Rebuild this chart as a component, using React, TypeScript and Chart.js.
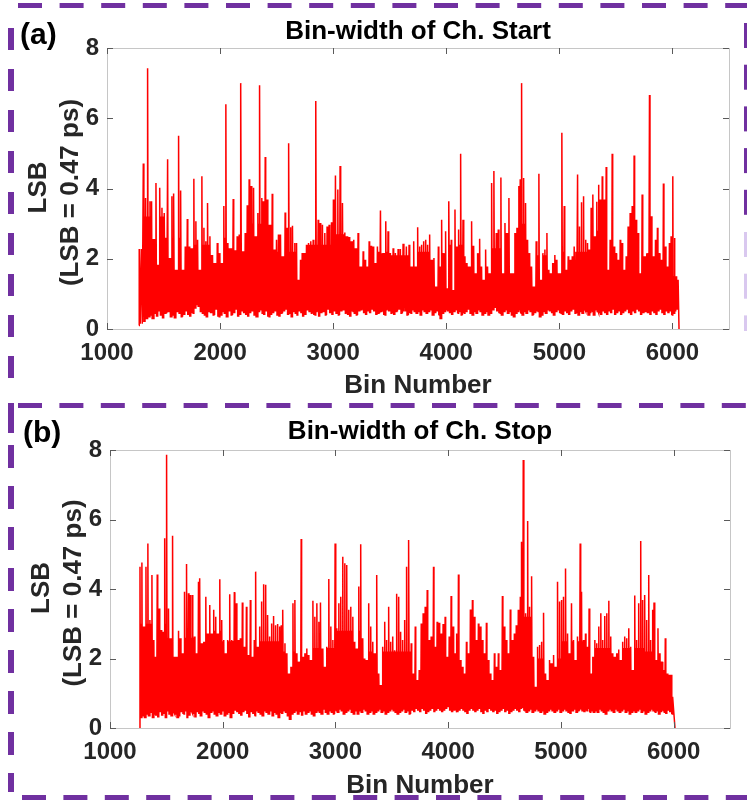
import React, { useEffect, useRef } from "react";
import { Chart, registerables } from "chart.js";
Chart.register(...registerables);

const FONT = "'Liberation Sans', Arial, sans-serif";
const PURPLE = "#7030a0";
const LAVENDER = "#d9c8ef";

const xTickValues = [1000, 2000, 3000, 4000, 5000, 6000];
const yTickValues = [0, 2, 4, 6, 8];

const panelLabels = ["(a)", "(b)"];
const panelTitles = ["Bin-width of Ch. Start", "Bin-width of Ch. Stop"];
const xAxisTitle = "Bin Number";
const yAxisTitleLines = ["LSB", "(LSB = 0.47 ps)"];

// Channel Start: bin numbers and local peak values (LSB)
const startBins = [1283,
  1285,1321,1341,1359,1380,1394,1415,1433,1453,1468,1486,1506,1536,1556,1574,1589,1615,1633,1651,1674,
  1692,1710,1727,1745,1768,1786,1801,1821,1839,1857,1874,1889,1910,1933,1957,1975,1998,2016,2033,2051,
  2069,2092,2116,2134,2151,2169,2184,2204,2222,2240,2257,2275,2296,2313,2334,2349,2369,2381,2399,2416,
  2440,2461,2478,2499,2516,2534,2558,2575,2593,2608,2625,2640,2661,2676,2693,2711,2726,2743,2764,2782,
  2802,2823,2846,2867,2885,2905,2926,2946,2964,2985,3002,3020,3041,3061,3082,3103,3123,3141,3161,3182,
  3200,3220,3241,3265,3282,3300,3318,3335,3353,3373,3391,3418,3441,3465,3485,3506,3530,3550,3574,3594,
  3618,3647,3671,
  3694,3712,3729,3747,3765,3782,3800,3818,3835,3853,3871,3891,3912,3930,3941,3959,3977,3994,4009,4024,
  4044,4059,4077,4095,4109,4127,4148,4165,4183,4206,4224,4242,4259,4277,4295,4312,4330,4348,4365,4383,
  4401,4421,4442,4460,4483,4501,4519,4536,4554,4572,4589,4607,4625,4642,4654,4666,4684,4701,4719,4737,
  4754,4778,4795,4819,4837,4854,4872,4890,4907,4928,4943,4960,4978,4996,5022,5043,5061,5078,5096,5114,
  5131,5161,5178,5196,5214,5231,5249,5267,5281,5296,5314,5331,5346,5361,5379,5396,5414,5432,5449,5467,
  5485,5502,5520,5538,5555,5573,5591,5608,5626,5644,5661,5679,5697,5714,5732,5753,5773,5797,5814,5832,
  5850,5867,5885,5903,5920,5938,5956,5973,5988,6003,6018,6032,6050,
  6058];
const startPeaks = [0.1,
  2.28,4.71,3.73,7.42,3.64,3.64,2.56,4.16,1.83,4.02,3.45,3.30,4.83,2.02,3.78,3.86,1.69,5.50,3.94,1.69,
  2.35,3.13,2.35,2.30,4.28,3.07,2.54,1.69,4.35,2.88,2.50,3.59,2.64,2.11,1.88,2.45,2.16,1.88,3.50,6.40,
  2.45,2.30,3.70,2.24,2.64,2.69,7.00,2.21,2.73,3.52,4.26,4.07,4.02,2.64,3.30,6.94,3.73,3.64,4.90,3.69,
  2.97,3.85,2.26,2.54,2.69,2.69,2.07,3.32,2.88,5.29,2.90,2.94,2.45,2.45,1.40,1.97,2.16,2.16,2.40,2.45,
  2.50,2.54,6.49,3.11,3.02,2.97,2.73,2.92,2.97,3.04,3.69,4.37,3.97,4.64,3.59,2.75,2.64,2.62,2.50,2.54,
  2.30,2.73,1.78,2.21,1.97,1.78,2.50,2.37,2.35,1.88,2.35,3.37,2.16,3.07,2.78,2.16,2.30,2.16,2.28,2.28,
  2.43,2.35,2.40,
  1.78,2.50,1.78,2.90,2.35,2.40,2.50,2.54,2.40,2.69,1.97,2.02,1.21,2.35,1.78,3.11,2.16,2.78,1.16,3.64,
  2.54,1.11,3.40,2.35,2.83,4.99,3.11,2.07,1.88,1.78,3.07,2.37,1.59,2.16,2.57,1.78,1.40,2.26,1.78,1.59,
  4.16,4.50,2.73,2.83,4.31,1.59,3.02,2.73,3.73,1.59,1.59,2.73,2.88,4.07,4.26,7.00,4.30,3.59,2.54,2.16,
  1.78,1.21,2.50,4.42,1.40,2.16,2.26,2.73,1.69,1.59,1.88,2.11,1.97,1.59,5.59,3.50,1.69,2.07,1.97,2.07,
  2.35,4.40,2.92,3.61,3.78,2.54,2.45,2.26,3.45,3.83,2.64,3.62,4.11,3.69,4.35,3.69,4.61,1.69,2.54,4.99,
  2.35,2.16,1.97,2.54,2.45,1.69,2.07,2.92,3.30,3.50,4.94,3.11,2.73,1.59,3.83,2.07,2.16,6.66,3.21,2.07,
  2.54,2.88,2.16,1.97,4.14,2.35,1.78,2.45,2.64,4.35,2.59,1.50,1.40,
  0];
// Channel Start: lower envelope between neighbouring peaks
const startLows = [
  0.15,0.2,0.3,0.35,0.4,0.3,0.45,0.35,0.5,0.4,
  0.3,0.45,0.5,0.35,0.4,0.3,0.5,0.45,0.35,0.4,
  0.5,0.4,0.35,0.45,0.6,0.7,0.65,0.5,0.45,0.4,
  0.35,0.5,0.45,0.4,0.55,0.35,0.4,0.5,0.45,0.35,
  0.5,0.4,0.45,0.55,0.35,0.4,0.5,0.45,0.4,0.35,
  0.45,0.5,0.4,0.35,0.5,0.55,0.45,0.4,0.5,0.35,
  0.4,0.45,0.5,0.4,0.35,0.45,0.5,0.55,0.4,0.45,
  0.35,0.5,0.45,0.4,0.5,0.45,0.35,0.4,0.55,0.5,
  0.45,0.4,0.5,0.35,0.45,0.5,0.4,0.55,0.45,0.4,
  0.5,0.45,0.4,0.5,0.55,0.45,0.4,0.35,0.5,0.45,
  0.4,0.5,0.55,0.45,0.4,0.5,0.45,0.55,0.5,0.4,
  0.45,0.5,0.4,0.55,0.5,0.45,0.4,0.5,0.55,0.45,
  0.5,0.4,0.45,0.55,0.5,0.45,0.5,0.4,0.55,0.5,
  0.45,0.5,0.55,0.4,0.45,0.5,0.4,0.3,0.45,0.5,
  0.55,0.5,0.45,0.4,0.5,0.55,0.45,0.5,0.4,0.45,
  0.5,0.55,0.45,0.4,0.5,0.45,0.55,0.5,0.4,0.45,
  0.5,0.4,0.45,0.55,0.6,0.5,0.45,0.4,0.5,0.55,
  0.45,0.5,0.4,0.35,0.45,0.5,0.55,0.45,0.4,0.5,
  0.45,0.55,0.5,0.4,0.45,0.5,0.35,0.4,0.5,0.45,
  0.55,0.5,0.45,0.4,0.5,0.55,0.45,0.4,0.5,0.45,
  0.4,0.5,0.55,0.45,0.4,0.5,0.45,0.55,0.5,0.4,
  0.45,0.5,0.4,0.55,0.5,0.45,0.4,0.5,0.45,0.4,
  0.5,0.45,0.55,0.4,0.45,0.5,0.4,0.45,0.5,0.55,
  0.45,0.4,0.5,0.45,0.55,0.5,0.4,0.45,0.5,0.45,
  0.4,0.5,0.45,0.4,0.5,0.55,0.45,0.4,0.5,0.45,
  0.5,0.4,0.45,0.5,0.55,0.45,0.4,0.5,0.45,0.4,
  0.45,0.5,0.4,0.45,0.5,0.4,0.45,0.5,0.3,0.2];

// Channel Stop: bin numbers and local peak values (LSB)
const stopBins = [1262,
  1266,1283,1301,1319,1336,1354,1372,1389,1401,1419,1437,1454,1472,1487,1502,1519,1537,1555,1572,1590,
  1608,1625,1643,1661,1679,1696,1714,1732,1749,1767,1785,1797,1814,1832,1850,1867,1885,1903,1920,1938,
  1956,1974,1991,2009,2027,2044,2062,2080,2103,2121,2139,2156,2174,2192,2210,2227,2245,2263,2280,2292,
  2310,2328,2345,2363,2381,2398,2416,2434,2451,2469,2487,2505,2519,2534,2552,2569,2587,2605,2623,2640,
  2658,2676,2696,2711,2729,2746,2764,2782,2800,2817,2835,2853,2867,2888,2906,2923,2941,2959,2977,2997,
  3012,3030,3047,3065,3083,3100,3118,3136,3154,3171,3189,3207,3224,3242,3260,3277,3295,3313,3331,3348,
  3366,3384,3401,3419,3437,3454,3472,3490,3508,3525,3543,3561,3578,3596,3614,3631,3649,
  3672,3690,3708,3725,3743,3761,3778,3796,3814,3832,3849,3870,3885,3902,3920,3938,3955,3973,3991,4009,
  4026,4044,4062,4073,4091,4109,4127,4144,4162,4180,4197,4215,4233,4250,4268,4286,4304,4321,4339,4357,
  4374,4392,4410,4427,4445,4463,4481,4498,4516,4534,4551,4569,4587,4604,4622,4640,4652,4666,4687,4705,
  4722,4740,4758,4776,4793,4811,4829,4846,4864,4882,4899,4917,4935,4953,4970,4988,5006,5023,5041,5059,
  5076,5094,5112,5130,5147,5171,5183,5200,5218,5236,5250,5265,5283,5301,5318,5336,5354,5371,5389,5407,
  5425,5442,5460,5478,5495,5513,5531,5548,5566,5584,5602,5619,5637,5655,5672,5690,5708,5725,5743,5761,
  5779,5796,5814,5826,5843,5861,5879,5897,5914,5926,5944,5961,5979,5991,
  6012];
const stopPeaks = [0,
  4.64,4.76,2.92,4.64,5.31,3.11,4.40,2.53,2.05,4.42,3.44,2.82,2.77,5.46,7.86,3.44,2.58,5.53,2.05,2.05,
  2.80,2.58,2.15,3.92,4.72,3.88,3.83,3.83,2.63,2.15,4.21,4.31,2.44,2.48,3.78,2.72,3.54,2.72,3.40,3.20,
  2.72,4.28,3.11,2.53,2.15,2.53,3.85,2.53,3.91,3.59,2.53,2.58,3.61,2.34,3.49,2.10,3.68,2.05,2.53,4.50,
  2.34,2.92,3.64,4.14,4.12,3.25,2.63,3.01,3.22,2.96,2.99,2.92,2.96,3.40,2.44,2.15,1.57,1.76,3.59,3.68,
  2.15,1.91,5.44,2.05,2.15,2.29,2.10,1.96,3.66,3.20,3.59,3.06,3.61,2.29,1.76,2.34,4.29,2.92,2.53,5.31,
  2.87,3.59,3.78,4.93,4.74,4.69,3.40,3.49,3.20,2.48,2.29,4.07,5.29,2.58,2.00,1.96,3.59,2.92,2.48,2.15,
  4.40,1.57,1.24,2.34,3.06,2.53,3.49,2.48,2.63,2.24,3.86,3.78,2.77,2.53,3.11,4.64,5.41,
  2.44,1.57,2.92,1.38,1.67,3.01,3.30,3.49,3.97,2.53,2.63,4.64,2.34,3.06,3.03,2.72,2.99,3.20,2.05,2.63,
  3.80,2.92,2.15,2.72,4.42,1.96,1.76,1.57,2.48,2.15,3.41,3.68,3.20,2.53,3.01,2.92,2.53,2.15,3.03,1.96,
  1.57,1.38,2.15,1.76,2.15,1.67,3.80,2.92,2.53,2.15,3.41,2.53,2.72,2.96,3.40,3.78,5.36,7.71,3.30,5.96,
  3.49,4.37,2.05,1.19,2.34,2.39,2.48,3.32,1.57,1.38,1.96,1.86,2.10,1.76,4.21,3.64,3.68,3.78,4.59,2.72,
  2.15,3.59,2.53,1.96,2.63,5.31,3.92,2.53,2.72,2.34,3.44,1.57,2.05,2.53,2.44,2.92,3.30,2.53,3.22,3.30,
  3.66,2.63,2.15,2.05,2.15,2.26,1.96,2.48,2.63,2.58,2.87,2.34,1.67,3.81,2.53,3.59,5.38,3.68,3.83,3.11,
  4.40,2.53,3.40,3.61,1.96,2.87,2.15,1.91,1.67,2.58,1.57,1.53,1.53,0.90,
  0];
// Channel Stop: lower envelope between neighbouring peaks
const stopLows = [
  0.3,0.35,0.3,0.4,0.35,0.45,0.3,0.4,0.35,0.3,
  0.45,0.35,0.4,0.3,0.5,0.4,0.35,0.45,0.4,0.3,
  0.35,0.45,0.4,0.5,0.3,0.35,0.45,0.4,0.3,0.45,
  0.4,0.35,0.5,0.45,0.4,0.3,0.45,0.5,0.4,0.35,
  0.45,0.4,0.5,0.35,0.4,0.45,0.3,0.4,0.5,0.45,
  0.4,0.35,0.45,0.5,0.4,0.3,0.45,0.4,0.35,0.5,
  0.45,0.4,0.35,0.5,0.45,0.4,0.5,0.35,0.45,0.4,
  0.3,0.45,0.4,0.5,0.45,0.35,0.25,0.4,0.45,0.5,
  0.4,0.45,0.35,0.5,0.4,0.45,0.5,0.4,0.35,0.45,
  0.5,0.45,0.4,0.55,0.45,0.4,0.5,0.45,0.4,0.5,
  0.45,0.55,0.5,0.4,0.45,0.5,0.55,0.45,0.4,0.5,
  0.4,0.5,0.45,0.55,0.5,0.4,0.45,0.5,0.4,0.45,
  0.5,0.55,0.45,0.5,0.4,0.45,0.5,0.55,0.5,0.45,
  0.4,0.45,0.5,0.55,0.45,0.5,0.4,0.5,0.45,0.55,
  0.5,0.45,0.55,0.5,0.4,0.45,0.5,0.55,0.45,0.5,
  0.55,0.5,0.45,0.5,0.55,0.6,0.5,0.45,0.5,0.55,
  0.45,0.5,0.55,0.5,0.45,0.4,0.5,0.55,0.5,0.45,
  0.5,0.55,0.45,0.4,0.5,0.45,0.55,0.5,0.45,0.5,
  0.4,0.45,0.5,0.55,0.45,0.5,0.4,0.45,0.5,0.55,
  0.5,0.45,0.55,0.6,0.5,0.45,0.5,0.55,0.45,0.5,
  0.55,0.5,0.45,0.5,0.4,0.45,0.5,0.55,0.5,0.45,
  0.5,0.55,0.45,0.5,0.55,0.5,0.45,0.4,0.5,0.55,
  0.45,0.5,0.55,0.5,0.45,0.5,0.55,0.45,0.5,0.45,
  0.5,0.45,0.55,0.5,0.45,0.4,0.5,0.55,0.5,0.45,
  0.55,0.5,0.45,0.5,0.55,0.45,0.5,0.4,0.45,0.5,
  0.45,0.5,0.55,0.45,0.5,0.4,0.45,0.5,0.55,0.5,
  0.45,0.5,0.4,0.45,0.5,0.45,0.4,0.5,0.45,0.4,
  0.45,0.4,0.5,0.45,0.4,0.35,0.45,0.4,0.3,0.2];

// Ceiling of the dense band, per block of 250 bins starting at these bin numbers
const bodyBlockBins = [1250,1500,1750,2000,2250,2500,2750,3000,3250,3500,3750,4000,4250,4500,4750,5000,5250,5500,5750,6000];
const startBodyTop = [3.2,2.6,2.4,2.6,3.0,2.2,2.4,2.7,2.2,2.1,2.2,2.4,2.3,3.0,2.1,2.2,2.8,2.4,2.3,1.5];
const stopBodyTop = [3.0,2.6,2.8,2.5,2.5,2.2,2.3,2.8,2.2,2.2,2.4,2.3,2.3,3.2,2.0,2.5,2.3,2.3,2.2,1.3];

function bodyAt(bin: number, tops: number[]) {
  let k = 0;
  for (let j = 0; j < bodyBlockBins.length; j++) if (bin >= bodyBlockBins[j]) k = j;
  return tops[k];
}

function buildSeries(bins: number[], peaks: number[], lows: number[], tops: number[]) {
  const pts: { x: number; y: number }[] = [];
  const n = Math.min(bins.length, peaks.length);
  for (let i = 0; i < n; i++) {
    pts.push({ x: bins[i], y: peaks[i] });
    if (i >= 1 && i < n - 2 && i - 1 < lows.length) {
      const d = bins[i + 1] - bins[i];
      const lo = lows[i - 1];
      const mid = bins[i] + d * 0.5;
      const top = Math.min(bodyAt(mid, tops), peaks[i], peaks[i + 1]);
      pts.push({ x: bins[i] + d * 0.25, y: lo });
      pts.push({ x: mid, y: top });
      pts.push({ x: bins[i] + d * 0.75, y: lo });
    }
  }
  return pts;
}

type Area = { left: number; right: number; top: number; bottom: number };
type PanelCfg = {
  index: number;
  height: number;
  area: Area;
  labelX: number;
  labelY: number;
  titleY: number;
  xTitleY: number;
  yTitleX: [number, number];
  frame: (ctx: CanvasRenderingContext2D) => void;
  bins: number[];
  peaks: number[];
  lows: number[];
  tops: number[];
};

function hDashes(ctx: CanvasRenderingContext2D, x0: number, y: number, period: number, len: number, th: number, xmax: number) {
  for (let x = x0; x < xmax; x += period) {
    ctx.fillRect(x, y, Math.min(len, xmax - x), th);
  }
}
function vDashes(ctx: CanvasRenderingContext2D, x: number, y0: number, period: number, len: number, th: number, ymax: number) {
  for (let y = y0; y < ymax; y += period) {
    ctx.fillRect(x, y, th, Math.min(len, ymax - y));
  }
}

const frameA = (ctx: CanvasRenderingContext2D) => {
  ctx.fillStyle = PURPLE;
  hDashes(ctx, 18, 3, 41.6, 24, 5, 747);
  vDashes(ctx, 8, 28, 41, 22, 6, 385);
  vDashes(ctx, 744, 23, 41.7, 25, 6, 216);
  ctx.fillStyle = LAVENDER;
  vDashes(ctx, 744, 232, 41.7, 25, 6, 331);
};
const frameB = (ctx: CanvasRenderingContext2D) => {
  ctx.fillStyle = PURPLE;
  hDashes(ctx, 18, 1, 41.4, 24, 5, 747);
  ctx.fillRect(8, 1, 6, 30);
  vDashes(ctx, 8, 43, 41, 23, 6, 390);
  hDashes(ctx, 22, 393, 41.4, 24, 5, 747);
};

const panels: PanelCfg[] = [
  {
    index: 0, height: 402,
    area: { left: 107, right: 729, top: 48, bottom: 329 },
    labelX: 20, labelY: 44, titleY: 39, xTitleY: 393, yTitleX: [46, 78],
    frame: frameA, bins: startBins, peaks: startPeaks, lows: startLows, tops: startBodyTop,
  },
  {
    index: 1, height: 403,
    area: { left: 110, right: 730, top: 48, bottom: 326 },
    labelX: 23, labelY: 40, titleY: 37, xTitleY: 391, yTitleX: [49, 81],
    frame: frameB, bins: stopBins, peaks: stopPeaks, lows: stopLows, tops: stopBodyTop,
  },
];

function Panel({ cfg }: { cfg: PanelCfg }) {
  const ref = useRef<HTMLCanvasElement | null>(null);
  useEffect(() => {
    const canvas = ref.current;
    if (!canvas) return;
    const a = cfg.area;
    const decor = {
      id: "decor" + cfg.index,
      afterDraw(chart: any) {
        const ctx: CanvasRenderingContext2D = chart.ctx;
        const ca = chart.chartArea;
        const xs = chart.scales.x;
        const ys = chart.scales.y;
        ctx.save();
        ctx.strokeStyle = "#c6c6c6";
        ctx.lineWidth = 1;
        ctx.strokeRect(Math.round(ca.left) + 0.5, Math.round(ca.top) + 0.5, Math.round(ca.right - ca.left), Math.round(ca.bottom - ca.top));
        ctx.strokeStyle = "#5a5a5a";
        ctx.beginPath();
        for (const v of xTickValues) {
          const px = Math.round(xs.getPixelForValue(v)) + 0.5;
          ctx.moveTo(px, ca.bottom); ctx.lineTo(px, ca.bottom - 6);
          ctx.moveTo(px, ca.top); ctx.lineTo(px, ca.top + 6);
        }
        for (const v of yTickValues) {
          const py = Math.round(ys.getPixelForValue(v)) + 0.5;
          ctx.moveTo(ca.left, py); ctx.lineTo(ca.left + 6, py);
          ctx.moveTo(ca.right, py); ctx.lineTo(ca.right - 6, py);
        }
        ctx.stroke();
        const cx = (ca.left + ca.right) / 2;
        const cy = (ca.top + ca.bottom) / 2;
        ctx.fillStyle = "#000";
        ctx.font = "bold 26px " + FONT;
        ctx.textAlign = "center";
        ctx.textBaseline = "alphabetic";
        ctx.fillText(panelTitles[cfg.index], cx, cfg.titleY);
        ctx.fillStyle = "#262626";
        ctx.fillText(xAxisTitle, cx, cfg.xTitleY);
        for (let k = 0; k < 2; k++) {
          ctx.save();
          ctx.translate(cfg.yTitleX[k], cy + (k === 0 ? -1 : 4));
          ctx.rotate(-Math.PI / 2);
          ctx.fillText(yAxisTitleLines[k], 0, 0);
          ctx.restore();
        }
        ctx.fillStyle = "#000";
        ctx.font = "bold 30px " + FONT;
        ctx.textAlign = "left";
        ctx.fillText(panelLabels[cfg.index], cfg.labelX, cfg.labelY);
        cfg.frame(ctx);
        ctx.restore();
      },
    };
    const chart = new Chart(canvas, {
      type: "line",
      data: {
        datasets: [
          {
            data: buildSeries(cfg.bins, cfg.peaks, cfg.lows, cfg.tops),
            borderColor: "#ff0000",
            borderWidth: 1.5,
            pointRadius: 0,
            tension: 0,
            fill: false,
          },
        ],
      },
      options: {
        responsive: false,
        animation: false,
        devicePixelRatio: 1,
        events: [],
        layout: { padding: { left: 0, right: 747 - a.right, top: a.top, bottom: 0 } },
        plugins: { legend: { display: false }, title: { display: false }, tooltip: { enabled: false } },
        scales: {
          x: {
            type: "linear",
            min: 1000,
            max: 6500,
            afterBuildTicks: (s: any) => { s.ticks = xTickValues.map((v) => ({ value: v })); },
            afterFit: (s: any) => { s.height = cfg.height - a.bottom; },
            grid: { display: false, drawTicks: false },
            border: { display: false },
            ticks: {
              autoSkip: false,
              maxRotation: 0,
              padding: 10,
              color: "#262626",
              font: { family: FONT, size: 24, weight: "bold" },
              callback: (v: any) => String(v),
            },
          },
          y: {
            type: "linear",
            min: 0,
            max: 8,
            afterBuildTicks: (s: any) => { s.ticks = yTickValues.map((v) => ({ value: v })); },
            afterFit: (s: any) => { s.width = a.left; },
            grid: { display: false, drawTicks: false },
            border: { display: false },
            ticks: {
              padding: 8,
              color: "#262626",
              font: { family: FONT, size: 24, weight: "bold" },
              callback: (v: any) => String(v),
            },
          },
        },
      },
      plugins: [decor],
    } as any);
    return () => chart.destroy();
  }, [cfg]);
  return <canvas ref={ref} width={747} height={cfg.height} style={{ display: "block" }} />;
}

export default function App() {
  useEffect(() => {
    document.body.style.margin = "0";
    document.body.style.background = "#fff";
  }, []);
  return (
    <div style={{ width: 747, height: 805, position: "relative", background: "#fff", overflow: "hidden" }}>
      {panels.map((p) => (
        <Panel key={p.index} cfg={p} />
      ))}
    </div>
  );
}
